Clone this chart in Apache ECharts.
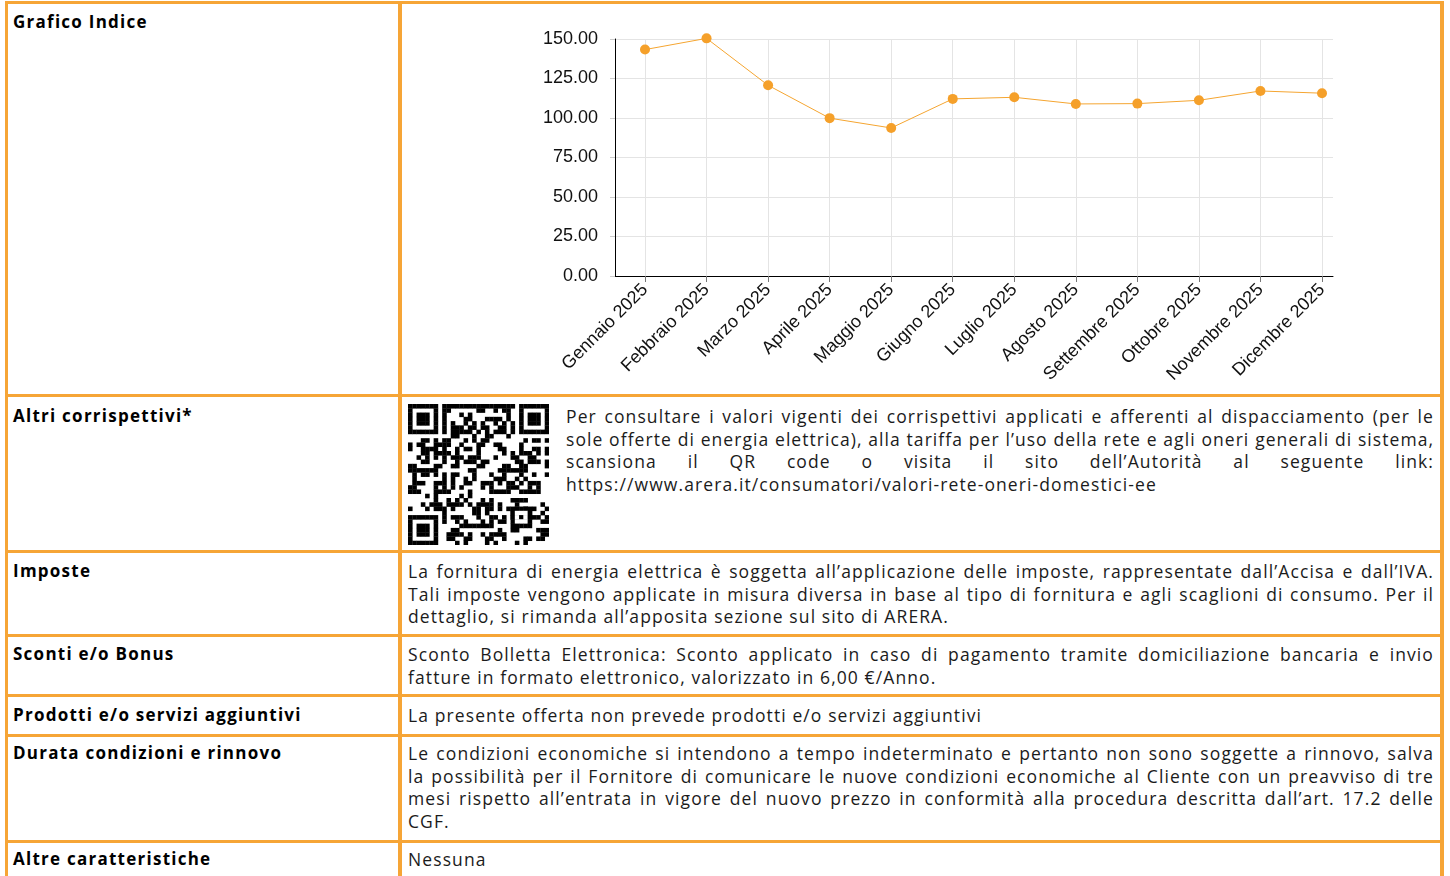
<!DOCTYPE html>
<html><head><meta charset="utf-8">
<script src="https://cdn.jsdelivr.net/npm/echarts@6/dist/echarts.min.js"></script>
<style>
body{margin:0;width:1450px;height:876px;overflow:hidden;background:#fff;position:relative;font-family:'Open Sans',sans-serif;color:#1b1b1b}
.hl{position:absolute;left:5px;width:1439px;height:3px;background:#F6A536}
.vl{position:absolute;top:1px;height:875px;width:4px;background:#F6A536}
.hd{position:absolute;left:13px;font-weight:700;font-size:17px;letter-spacing:1.25px;line-height:22.7px;color:#000}
.tx{position:absolute;font-size:17.5px;letter-spacing:1.1px;line-height:22.7px}
.j{text-align:justify;text-align-last:justify;white-space:nowrap}
.l{text-align:left;white-space:nowrap}
#chart{position:absolute;left:0;top:0;width:1450px;height:400px}
#qr{position:absolute;left:408px;top:404px}
</style></head>
<body>
<div class="hl" style="top:1px"></div>
<div class="hl" style="top:394px"></div>
<div class="hl" style="top:550px"></div>
<div class="hl" style="top:634px"></div>
<div class="hl" style="top:694px"></div>
<div class="hl" style="top:734px"></div>
<div class="hl" style="top:840px"></div>
<div class="vl" style="left:5px;width:3px"></div>
<div class="vl" style="left:398px"></div>
<div class="vl" style="left:1440px"></div>

<div class="hd" style="top:11px">Grafico Indice</div>
<div class="hd" style="top:405px">Altri corrispettivi*</div>
<div class="hd" style="top:560px">Imposte</div>
<div class="hd" style="top:643px">Sconti e/o Bonus</div>
<div class="hd" style="top:704px">Prodotti e/o servizi aggiuntivi</div>
<div class="hd" style="top:742px">Durata condizioni e rinnovo</div>
<div class="hd" style="top:848px">Altre caratteristiche</div>

<svg id="qr" width="141" height="141"></svg>

<div class="tx" style="left:566px;width:868px;top:405px">
<div class="j">Per consultare i valori vigenti dei corrispettivi applicati e afferenti al dispacciamento (per le</div>
<div class="j">sole offerte di energia elettrica), alla tariffa per l’uso della rete e agli oneri generali di sistema,</div>
<div class="j">scansiona il QR code o visita il sito dell’Autorità al seguente link:</div>
<div class="l">https://www.arera.it/consumatori/valori-rete-oneri-domestici-ee</div>
</div>
<div class="tx" style="left:408px;width:1026px;top:560px">
<div class="j">La fornitura di energia elettrica è soggetta all’applicazione delle imposte, rappresentate dall’Accisa e dall’IVA.</div>
<div class="j">Tali imposte vengono applicate in misura diversa in base al tipo di fornitura e agli scaglioni di consumo. Per il</div>
<div class="l">dettaglio, si rimanda all’apposita sezione sul sito di ARERA.</div>
</div>
<div class="tx" style="left:408px;width:1026px;top:643px">
<div class="j">Sconto Bolletta Elettronica: Sconto applicato in caso di pagamento tramite domiciliazione bancaria e invio</div>
<div class="l">fatture in formato elettronico, valorizzato in 6,00 €/Anno.</div>
</div>
<div class="tx" style="left:408px;width:1026px;top:704px">
<div class="l">La presente offerta non prevede prodotti e/o servizi aggiuntivi</div>
</div>
<div class="tx" style="left:408px;width:1026px;top:742px">
<div class="j">Le condizioni economiche si intendono a tempo indeterminato e pertanto non sono soggette a rinnovo, salva</div>
<div class="j">la possibilità per il Fornitore di comunicare le nuove condizioni economiche al Cliente con un preavviso di tre</div>
<div class="j">mesi rispetto all’entrata in vigore del nuovo prezzo in conformità alla procedura descritta dall’art. 17.2 delle</div>
<div class="l">CGF.</div>
</div>
<div class="tx" style="left:408px;width:1026px;top:848px">
<div class="l">Nessuna</div>
</div>

<div id="chart"></div>
<script>
// ---- data ----
const categories = ['Gennaio 2025','Febbraio 2025','Marzo 2025','Aprile 2025','Maggio 2025','Giugno 2025','Luglio 2025','Agosto 2025','Settembre 2025','Ottobre 2025','Novembre 2025','Dicembre 2025'];
const indexValues = [143.3, 150.4, 120.7, 99.9, 93.7, 112.1, 113.1, 108.9, 109.1, 111.2, 117.1, 115.7];
const yMin = 0;
const yMax = 150;
const yStep = 25;

// shrink letter-spacing on justified lines that would not fit
document.querySelectorAll('.j').forEach(el => {
  let ls = 1.1;
  el.style.textAlignLast = 'left';
  while (el.scrollWidth > el.clientWidth && ls > -0.5) {
    ls -= 0.05;
    el.style.letterSpacing = ls + 'px';
  }
  el.style.textAlignLast = 'justify';
});

// ---- decorative QR-like pattern ----
(function(){
  const svg = document.getElementById('qr');
  const n = 33, m = 141 / n;
  let s = '';
  function finder(r0, c0){
    for (let r = 0; r < 7; r++) for (let c = 0; c < 7; c++) {
      const on = (r===0||r===6||c===0||c===6) || (r>=2&&r<=4&&c>=2&&c<=4);
      if (on) s += `<rect x="${(c0+c)*m}" y="${(r0+r)*m}" width="${m+0.3}" height="${m+0.3}"/>`;
    }
  }
  const inFinder = (r,c) => (r<8&&c<8)||(r<8&&c>=n-8)||(r>=n-8&&c<8);
  for (let r = 0; r < n; r++) for (let c = 0; c < n; c++) {
    if (inFinder(r,c)) continue;
    const v = ((r*31 + c*17 + (r*c)%7 + ((r^c)*3)) % 5);
    if (v < 2 || (r===6 && c%2===0) || (c===6 && r%2===0)) s += `<rect x="${c*m}" y="${r*m}" width="${m+0.3}" height="${m+0.3}"/>`;
  }
  finder(0,0); finder(0,n-7); finder(n-7,0);
  for (let r = 0; r < 5; r++) for (let c = 0; c < 5; c++) {
    const on = (r===0||r===4||c===0||c===4||(r===2&&c===2));
    const rr = n-9+r, cc = n-9+c;
    s += `<rect x="${cc*m}" y="${rr*m}" width="${m+0.3}" height="${m+0.3}" fill="${on?'#000':'#fff'}"/>`;
  }
  svg.innerHTML = '<g fill="#000">' + s + '</g>';
})();

// ---- chart ----
const chart = echarts.init(document.getElementById('chart'));
const font = 'Liberation Sans, Arial, sans-serif';
chart.setOption({
  animation: false,
  grid: [
    {left: 615, top: 39, width: 718, height: 237},
    {left: 645, top: 39, width: 677, height: 237}
  ],
  xAxis: [
    {gridIndex: 0, type: 'value', min: 0, max: 1,
     axisLine: {show: true, lineStyle: {color: '#000', width: 1}},
     axisTick: {show: false}, axisLabel: {show: false}, splitLine: {show: false}},
    {gridIndex: 1, type: 'category', data: categories, boundaryGap: false,
     axisLine: {show: true, lineStyle: {color: '#000', width: 1}},
     axisTick: {show: true, length: 6, lineStyle: {color: '#777'}},
     splitLine: {show: true, lineStyle: {color: '#e4e4e4', width: 1}},
     axisLabel: {rotate: 45, fontSize: 18, color: '#111', fontFamily: font, margin: 11, interval: 0}}
  ],
  yAxis: [
    {gridIndex: 0, type: 'value', min: yMin, max: yMax, interval: yStep,
     axisLine: {show: true, lineStyle: {color: '#000', width: 1}},
     axisTick: {show: true, length: 5, lineStyle: {color: '#ccc'}},
     splitLine: {show: true, lineStyle: {color: '#e4e4e4', width: 1}},
     axisLabel: {fontSize: 18, color: '#111', fontFamily: font, margin: 17,
                 formatter: v => v.toFixed(2)}},
    {gridIndex: 1, type: 'value', min: yMin, max: yMax, show: false}
  ],
  series: [{
    type: 'line', xAxisIndex: 1, yAxisIndex: 1, data: indexValues,
    symbol: 'circle', symbolSize: 10, clip: false,
    itemStyle: {color: '#F5A02A'},
    lineStyle: {color: '#F5A530', width: 1}
  }]
});
</script>
</body></html>
